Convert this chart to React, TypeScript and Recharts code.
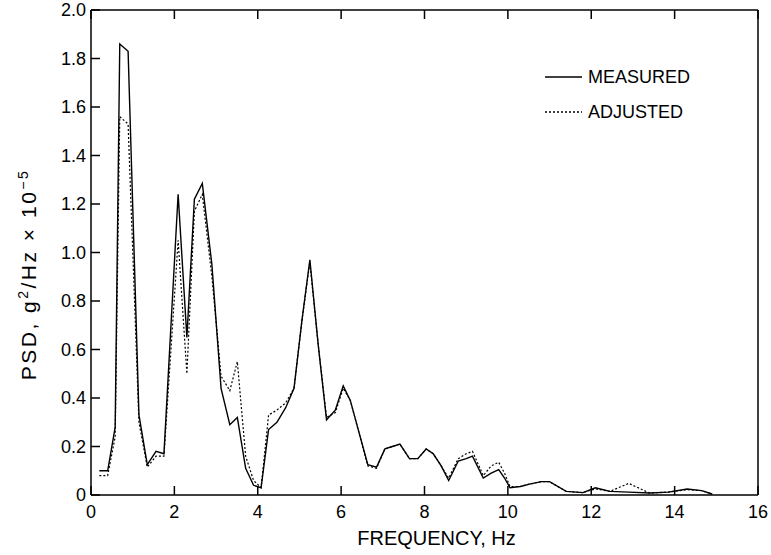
import { Legend, Line, LineChart, XAxis, YAxis } from "recharts";

// frequency points (Hz)
const freq = [
  0.2, 0.4, 0.58, 0.69, 0.89, 1.15, 1.35, 1.56, 1.75, 2.09, 2.3, 2.48, 2.67,
  2.9, 3.12, 3.33, 3.51, 3.71, 3.9, 4.08, 4.26, 4.46, 4.67, 4.87, 5.06, 5.25,
  5.45, 5.65, 5.86, 6.05, 6.22, 6.64, 6.85, 7.05, 7.23, 7.41, 7.64, 7.84, 8.04,
  8.21, 8.4, 8.58, 8.81, 9.0, 9.15, 9.41, 9.6, 9.78, 9.92, 10.05, 10.3, 10.52,
  10.8, 11.0, 11.4, 11.8, 12.1, 12.45, 12.9, 13.4, 13.85, 14.3, 14.65, 14.9,
];

// PSD, g^2/Hz x 10^-5
const measured = [
  0.1, 0.1, 0.28, 1.86, 1.83, 0.33, 0.125, 0.18, 0.17, 1.24, 0.65, 1.22, 1.285,
  0.95, 0.44, 0.29, 0.32, 0.11, 0.04, 0.03, 0.27, 0.3, 0.36, 0.44, 0.72, 0.97,
  0.62, 0.31, 0.35, 0.45, 0.39, 0.125, 0.115, 0.19, 0.2, 0.21, 0.15, 0.15, 0.19,
  0.17, 0.12, 0.06, 0.14, 0.15, 0.16, 0.07, 0.09, 0.105, 0.07, 0.03, 0.035,
  0.045, 0.055, 0.055, 0.015, 0.01, 0.03, 0.015, 0.012, 0.008, 0.012, 0.025,
  0.018, 0.004,
];

const adjusted = [
  0.08, 0.08, 0.24, 1.56, 1.53, 0.3, 0.115, 0.16, 0.16, 1.05, 0.5, 1.17, 1.24,
  0.9, 0.49, 0.43, 0.55, 0.16, 0.06, 0.03, 0.33, 0.35, 0.38, 0.44, 0.72, 0.96,
  0.62, 0.32, 0.34, 0.44, 0.39, 0.12, 0.11, 0.19, 0.2, 0.21, 0.15, 0.15, 0.19,
  0.17, 0.12, 0.07, 0.15, 0.17, 0.18, 0.08, 0.12, 0.135, 0.09, 0.035, 0.035,
  0.045, 0.055, 0.055, 0.015, 0.01, 0.025, 0.015, 0.048, 0.008, 0.012, 0.022,
  0.018, 0.004,
];

const legendOrder = ["MEASURED", "ADJUSTED"];
const xTicks = [0, 2, 4, 6, 8, 10, 12, 14, 16];
const yTicks = [0, 0.2, 0.4, 0.6, 0.8, 1.0, 1.2, 1.4, 1.6, 1.8, 2.0];

const data = freq.map((f, i) => ({
  f,
  measured: measured[i],
  adjusted: adjusted[i],
}));

const FONT = "'Liberation Sans', Arial, sans-serif";
const TICK_LEN = 9;

const BottomTick = ({ x, y, payload }: any) => (
  <g>
    <line x1={x} x2={x} y1={y} y2={y - TICK_LEN} stroke="#000" strokeWidth={1.5} />
    <text x={x} y={y + 23} textAnchor="middle" fontSize={18} fontFamily={FONT} fill="#000">
      {payload.value}
    </text>
  </g>
);

const TopTick = ({ x, y }: any) => (
  <line x1={x} x2={x} y1={y} y2={y + TICK_LEN} stroke="#000" strokeWidth={1.5} />
);

const LeftTick = ({ x, y, payload }: any) => (
  <g>
    <line x1={x} x2={x + TICK_LEN} y1={y} y2={y} stroke="#000" strokeWidth={1.5} />
    <text x={x - 5} y={y + 6} textAnchor="end" fontSize={18} fontFamily={FONT} fill="#000">
      {payload.value === 0 ? "0" : payload.value.toFixed(1)}
    </text>
  </g>
);

const RightTick = ({ x, y }: any) => (
  <line x1={x} x2={x - TICK_LEN} y1={y} y2={y} stroke="#000" strokeWidth={1.5} />
);

const XTitle = ({ viewBox }: any) => (
  <text
    x={viewBox.x + viewBox.width / 2 + 12}
    y={viewBox.y + 50}
    textAnchor="middle"
    fontSize={20}
    fontFamily={FONT}
    fill="#000"
  >
    FREQUENCY, Hz
  </text>
);

const YTitle = ({ viewBox }: any) => {
  const cx = 36;
  const cy = viewBox.y + viewBox.height / 2 + 22;
  return (
    <text
      x={cx}
      y={cy}
      transform={`rotate(-90 ${cx} ${cy})`}
      textAnchor="middle"
      fontSize={21}
      fontFamily={FONT}
      letterSpacing={2.5}
      fill="#000"
    >
      PSD, g
      <tspan dy={-8} fontSize={14}>2</tspan>
      <tspan dy={8}>/Hz × 10</tspan>
      <tspan dy={-8} fontSize={14}>−5</tspan>
    </text>
  );
};

const LegendBox = ({ payload }: any) => {
  const items = [...(payload || [])].sort(
    (a: any, b: any) => legendOrder.indexOf(a.value) - legendOrder.indexOf(b.value)
  );
  return (
    <svg width={170} height={70}>
      {items.map((entry: any, i: number) => (
        <g key={entry.value} transform={`translate(0, ${i * 35})`}>
          <line
            x1={0}
            x2={37}
            y1={9}
            y2={9}
            stroke="#000"
            strokeWidth={1.5}
            strokeDasharray={entry.payload?.strokeDasharray}
          />
          <text x={43} y={15} fontSize={18} fontFamily={FONT} fill="#000">
            {entry.value}
          </text>
        </g>
      ))}
    </svg>
  );
};

const App = () => {
  return (
    <div style={{ position: "absolute", left: 0, top: 0 }}>
      <LineChart
        width={771}
        height={555}
        data={data}
        margin={{ top: 0, right: 0, bottom: 0, left: 0 }}
      >
        <XAxis
          dataKey="f"
          type="number"
          domain={[0, 16]}
          ticks={xTicks}
          interval={0}
          height={60}
          tickSize={0}
          tickMargin={0}
          tickLine={false}
          tick={<BottomTick />}
          axisLine={{ stroke: "#000", strokeWidth: 1.5 }}
          label={{ content: <XTitle /> }}
        />
        <XAxis
          xAxisId="top"
          orientation="top"
          dataKey="f"
          type="number"
          domain={[0, 16]}
          ticks={xTicks}
          interval={0}
          height={10}
          tickSize={0}
          tickMargin={0}
          tickLine={false}
          tick={<TopTick />}
          axisLine={{ stroke: "#000", strokeWidth: 1.5 }}
        />
        <YAxis
          type="number"
          domain={[0, 2]}
          ticks={yTicks}
          interval={0}
          width={91}
          tickSize={0}
          tickMargin={0}
          tickLine={false}
          tick={<LeftTick />}
          axisLine={{ stroke: "#000", strokeWidth: 1.5 }}
          label={{ content: <YTitle /> }}
        />
        <YAxis
          yAxisId="right"
          orientation="right"
          type="number"
          domain={[0, 2]}
          ticks={yTicks}
          interval={0}
          width={13}
          tickSize={0}
          tickMargin={0}
          tickLine={false}
          tick={<RightTick />}
          axisLine={{ stroke: "#000", strokeWidth: 1.5 }}
        />
        <Legend
          layout="vertical"
          align="center"
          verticalAlign="middle"
          content={<LegendBox />}
          wrapperStyle={{ left: 545, top: 68, width: 170 }}
        />
        <Line
          name="MEASURED"
          dataKey="measured"
          stroke="#000"
          strokeWidth={1.4}
          dot={false}
          type="linear"
          isAnimationActive={false}
        />
        <Line
          name="ADJUSTED"
          dataKey="adjusted"
          stroke="#000"
          strokeWidth={1.2}
          strokeDasharray="2 2"
          dot={false}
          type="linear"
          isAnimationActive={false}
        />
      </LineChart>
    </div>
  );
};

export default App;
